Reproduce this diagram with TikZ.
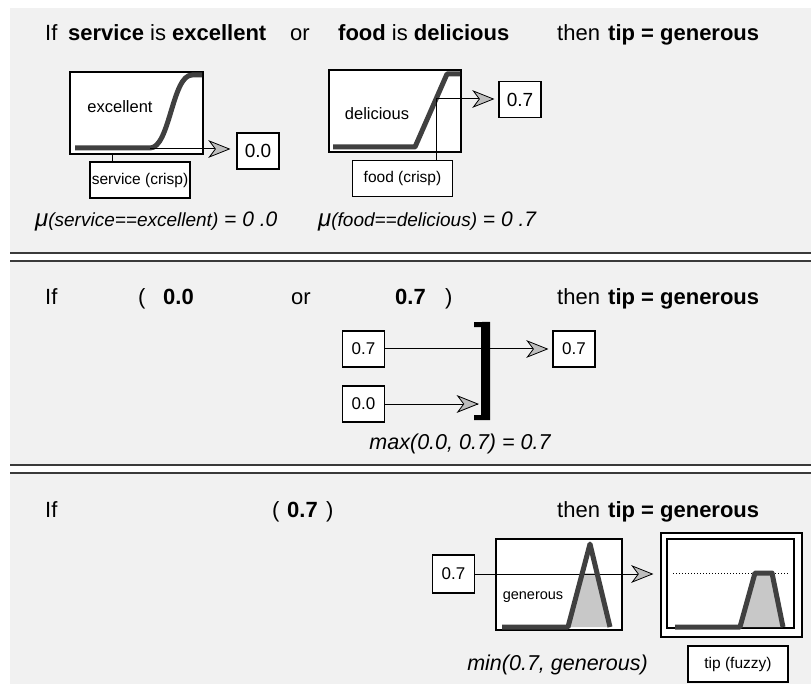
\documentclass[tikz,border=0pt]{standalone}
\usepackage{fontspec}
\setmainfont{Liberation Sans}
\definecolor{panelbg}{HTML}{F1F1F1}
\definecolor{curvegray}{HTML}{404040}
\definecolor{fillgray}{HTML}{C8C8C8}
\definecolor{tipgray}{HTML}{BEBEBE}
\definecolor{rulegray}{HTML}{3A3A3A}
\newcommand{\fuzztip}[1]{\filldraw[fill=tipgray,draw=black,line width=0.8pt] (#1) -- ++(-20,-8) -- ++(6,8) -- ++(-6,8) -- cycle;}

\begin{document}
\begin{tikzpicture}[x=1pt,y=-1pt,
  head/.style={anchor=base west,inner sep=0,font=\fontsize{22}{26}\selectfont},
  valbox/.style={draw,fill=white,line width=1.2pt,inner sep=0,minimum width=42pt,minimum height=36pt},
  inbox/.style={draw,fill=white,line width=1.2pt,inner sep=0,minimum width=100pt,minimum height=36pt,font=\fontsize{15.5}{17}\selectfont},
  mfbox/.style={draw,fill=white,line width=1.4pt,inner sep=0},
  mfcurve/.style={curvegray,line width=5pt,line join=round},
  conn/.style={line width=1pt},
  lbl/.style={inner sep=0,font=\fontsize{16.5}{18}\selectfont},
  note/.style={anchor=base,inner sep=0,font=\fontsize{21.5}{24}\selectfont\itshape}]
  \useasboundingbox (0,0) rectangle (811,684);
  \fill[white] (0,0) rectangle (811,684);
  \fill[panelbg] (10,8) rectangle (811,684);
  \fill[white] (10,253) rectangle (811,261);
  \fill[white] (10,465) rectangle (811,473);
  \draw[rulegray,line width=1.5pt] (10,253) -- (811,253) (10,261) -- (811,261)
    (10,465) -- (811,465) (10,473) -- (811,473);

  \foreach \yb in {41,305,517} {
    \node[head] at (45,\yb) {If};
    \node[head] at (557,\yb) {then};
    \node[head] at (608,\yb) {\textbf{tip = generous}};
  }

  % service is excellent / food is delicious
  \node[head] at (68,41) {\textbf{service} is \textbf{excellent}};
  \node[head] at (290,41) {or};
  \node[head] at (338,41) {\textbf{food} is \textbf{delicious}};

  \node[mfbox,minimum width=133pt,minimum height=82pt] (excbox) at (136.5,113) {};
  \node[lbl] (exclbl) at (120,107) {excellent};
  \draw[mfcurve] (75,148) -- (150,148) .. controls (170,148) and (172,75) .. (192,75) -- (202,75);
  \coordinate (exc0) at (150,149);
  \coordinate (svcin) at (112,148);
  \node[valbox,font=\fontsize{19}{20}\selectfont] (excval) at (258,151) {0.0};
  \draw[conn] (exc0) -- ([xshift=-7pt]exc0 -| excval.west) coordinate (exctip);
  \fuzztip{exctip}
  \node[inbox] (svc) at (140,180) {service (crisp)};
  \draw[conn] (svcin |- excbox.south) -- (svcin |- svc.north);

  \node[mfbox,minimum width=132pt,minimum height=82pt] (delbox) at (395,111) {};
  \node[lbl] (dellbl) at (377,114) {delicious};
  \draw[mfcurve] (333,147) -- (415,147) -- (447,74) -- (460,74);
  \coordinate (del07) at (436,99);
  \node[valbox,font=\fontsize{19}{20}\selectfont] (delval) at (520,99.5) {0.7};
  \draw[conn] (del07) -- ([xshift=-5pt]del07 -| delval.west) coordinate (deltip);
  \fuzztip{deltip}
  \node[inbox] (food) at (402.5,178.5) {food (crisp)};
  \draw[conn] (del07) -- (del07 |- food.north);

  \node[anchor=base west,inner sep=0,font=\itshape] (muexc) at (35,227)
    {\fontsize{24}{26}\selectfont μ\fontsize{19}{20}\selectfont(service==excellent)\fontsize{21}{22}\selectfont{} = 0 .0};
  \node[anchor=base west,inner sep=0,font=\itshape] (mudel) at (318,227)
    {\fontsize{24}{26}\selectfont μ\fontsize{19}{20}\selectfont(food==delicious)\fontsize{21}{22}\selectfont{} = 0 .7};

  % max
  \node[head] at (138,305) {(};
  \node[head] at (163,305) {\textbf{0.0}};
  \node[head] at (291,305) {or};
  \node[head] at (395,305) {\textbf{0.7}};
  \node[head] at (445,305) {)};

  \node[valbox,font=\fontsize{17}{18}\selectfont] (in07) at (363.5,349) {0.7};
  \node[valbox,font=\fontsize{17}{18}\selectfont] (in00) at (363.5,404) {0.0};
  \node[valbox,font=\fontsize{17}{18}\selectfont] (out07) at (574,349) {0.7};
  \node[inner sep=0,minimum width=9pt,minimum height=98pt] (maxop) at (485.5,371) {};
  \draw[conn] (in07.east) -- ([xshift=-5pt]out07.west) coordinate (maxtip);
  \fuzztip{maxtip}
  \draw[conn] (in00.east) -- ([xshift=-3pt]in00.east -| maxop.west) coordinate (ortip);
  \fuzztip{ortip}
  \fill (maxop.north east) -- (maxop.south east) -- ++(-16,0) -- ++(0,-5) -- ++(7,0)
    -- ++(0,-88) -- ++(-7,0) -- ++(0,-5) -- cycle;
  \node[note] (maxlbl) at (460,449) {max(0.0, 0.7) = 0.7};

  % min
  \node[head] at (272,517) {(};
  \node[head] at (287,517) {\textbf{0.7}};
  \node[head] at (326,517) {)};

  \node[valbox,font=\fontsize{17}{18}\selectfont,minimum height=38pt] (in3) at (453.5,574) {0.7};
  \node[mfbox,minimum width=126pt,minimum height=91pt] (genbox) at (559,584.5) {};
  \begin{scope}
    \clip (568,627) -- (590,544) -- (610,627) -- cycle;
    \fill[fillgray] (560,573) rectangle (620,630);
  \end{scope}
  \node[lbl,font=\fontsize{14.5}{16}\selectfont] (genlbl) at (533,597) {generous};
  \node[draw,fill=white,line width=1.3pt,inner sep=0,minimum width=141pt,minimum height=104pt] (tipout) at (731.5,585) {};
  \draw[line width=1.3pt] (667,539) rectangle (794,628);
  \fill[fillgray] (740,627) -- (755,573) -- (772,573) -- (783,627) -- cycle;
  \draw[dotted,line width=1pt] (673,573) -- (788,573);
  \draw[conn] (in3.east) -- ([xshift=-8pt]in3.east -| tipout.west) coordinate (mintip);
  \fuzztip{mintip}
  \draw[mfcurve] (502,627) -- (568,627) -- (590,544) -- (610,627);
  \draw[mfcurve] (675,627) -- (740,627) -- (755,573) -- (772,573) -- (783,627);
  \node[note] (minlbl) at (557.5,670) {min(0.7, generous)};
  \node[inbox] (tipfz) at (738,664) {tip (fuzzy)};
\end{tikzpicture}
\end{document}
